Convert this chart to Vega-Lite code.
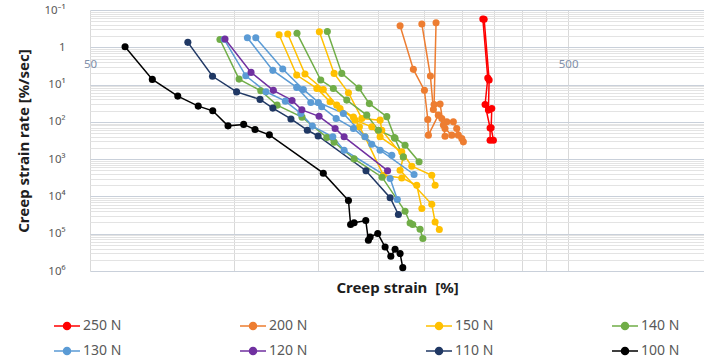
{
  "$schema": "https://vega.github.io/schema/vega-lite/v6.json",
  "width": 614,
  "height": 261,
  "autosize": {"type": "none"},
  "padding": {"left": 90, "top": 10, "right": 0, "bottom": 93},
  "background": "white",
  "config": {"view": {"stroke": null}, "font": "Noto Sans"},
  "data": {"values": [
    {"load":"250 N","spec":"a","n":1,"strain":331.6,"rate":0.174},
    {"load":"250 N","spec":"a","n":2,"strain":339.6,"rate":6.70},
    {"load":"250 N","spec":"a","n":3,"strain":335.2,"rate":34.1},
    {"load":"250 N","spec":"a","n":4,"strain":343.4,"rate":147},
    {"load":"250 N","spec":"a","n":5,"strain":343.4,"rate":310},
    {"load":"250 N","spec":"b","n":1,"strain":333.7,"rate":0.178},
    {"load":"250 N","spec":"b","n":2,"strain":341.8,"rate":7.58},
    {"load":"250 N","spec":"b","n":3,"strain":340.6,"rate":48.4},
    {"load":"250 N","spec":"b","n":4,"strain":346.2,"rate":43.6},
    {"load":"250 N","spec":"b","n":5,"strain":345.1,"rate":145},
    {"load":"250 N","spec":"b","n":6,"strain":348.9,"rate":310},

    {"load":"200 N","spec":"a","n":1,"strain":222.6,"rate":0.264},
    {"load":"200 N","spec":"a","n":2,"strain":237.3,"rate":3.91},
    {"load":"200 N","spec":"a","n":3,"strain":250.3,"rate":14.3},
    {"load":"200 N","spec":"a","n":4,"strain":254.4,"rate":86.1},
    {"load":"200 N","spec":"a","n":5,"strain":255.1,"rate":227},
    {"load":"200 N","spec":"a","n":6,"strain":267.6,"rate":66.0},
    {"load":"200 N","spec":"a","n":7,"strain":276.4,"rate":150},
    {"load":"200 N","spec":"a","n":8,"strain":285.5,"rate":227},
    {"load":"200 N","spec":"a","n":9,"strain":294.7,"rate":227},
    {"load":"200 N","spec":"a","n":10,"strain":301.9,"rate":344},
    {"load":"200 N","spec":"b","n":1,"strain":247.2,"rate":0.238},
    {"load":"200 N","spec":"b","n":2,"strain":257.6,"rate":5.92},
    {"load":"200 N","spec":"b","n":3,"strain":261.3,"rate":46.4},
    {"load":"200 N","spec":"b","n":4,"strain":272.1,"rate":81.0},
    {"load":"200 N","spec":"b","n":5,"strain":278.8,"rate":100},
    {"load":"200 N","spec":"b","n":6,"strain":287.7,"rate":100},
    {"load":"200 N","spec":"b","n":7,"strain":292.4,"rate":150},
    {"load":"200 N","spec":"b","n":8,"strain":299.6,"rate":279},
    {"load":"200 N","spec":"c","n":1,"strain":264.7,"rate":0.219},
    {"load":"200 N","spec":"c","n":2,"strain":262.2,"rate":34.5},
    {"load":"200 N","spec":"c","n":3,"strain":269.9,"rate":33.4},
    {"load":"200 N","spec":"c","n":4,"strain":274.2,"rate":122},
    {"load":"200 N","spec":"c","n":5,"strain":276.4,"rate":242},

    {"load":"150 N","spec":"a","n":1,"strain":124.3,"rate":0.460},
    {"load":"150 N","spec":"a","n":2,"strain":135.3,"rate":5.57},
    {"load":"150 N","spec":"a","n":3,"strain":149.1,"rate":12.7},
    {"load":"150 N","spec":"a","n":4,"strain":158.9,"rate":29.0},
    {"load":"150 N","spec":"a","n":5,"strain":166.7,"rate":43.6},
    {"load":"150 N","spec":"a","n":6,"strain":177.8,"rate":74.7},
    {"load":"150 N","spec":"a","n":7,"strain":183.0,"rate":136},
    {"load":"150 N","spec":"a","n":8,"strain":188.0,"rate":252},
    {"load":"150 N","spec":"a","n":9,"strain":205.4,"rate":2700},
    {"load":"150 N","spec":"a","n":10,"strain":224.4,"rate":3190},
    {"load":"150 N","spec":"a","n":11,"strain":241.2,"rate":5000},
    {"load":"150 N","spec":"a","n":12,"strain":247.2,"rate":21100},
    {"load":"150 N","spec":"b","n":1,"strain":129.6,"rate":0.441},
    {"load":"150 N","spec":"b","n":2,"strain":140.8,"rate":5.23},
    {"load":"150 N","spec":"b","n":3,"strain":153.8,"rate":13.5},
    {"load":"150 N","spec":"b","n":4,"strain":164.1,"rate":35.6},
    {"load":"150 N","spec":"b","n":5,"strain":179.2,"rate":89.9},
    {"load":"150 N","spec":"b","n":6,"strain":194.2,"rate":136},
    {"load":"150 N","spec":"b","n":7,"strain":202.2,"rate":252},
    {"load":"150 N","spec":"b","n":8,"strain":224.4,"rate":639},
    {"load":"150 N","spec":"b","n":9,"strain":235.5,"rate":1550},
    {"load":"150 N","spec":"b","n":10,"strain":259.3,"rate":2700},
    {"load":"150 N","spec":"b","n":11,"strain":263.5,"rate":5000},
    {"load":"150 N","spec":"c","n":1,"strain":150.9,"rate":0.383},
    {"load":"150 N","spec":"c","n":2,"strain":162.0,"rate":5.01},
    {"load":"150 N","spec":"c","n":3,"strain":173.6,"rate":16.6},
    {"load":"150 N","spec":"c","n":4,"strain":185.1,"rate":81.0},
    {"load":"150 N","spec":"c","n":5,"strain":202.2,"rate":89.9},
    {"load":"150 N","spec":"c","n":6,"strain":203.8,"rate":167},
    {"load":"150 N","spec":"c","n":7,"strain":226.1,"rate":870},
    {"load":"150 N","spec":"c","n":8,"strain":222.6,"rate":1980},
    {"load":"150 N","spec":"c","n":9,"strain":259.3,"rate":16200},
    {"load":"150 N","spec":"c","n":10,"strain":263.5,"rate":48400},
    {"load":"150 N","spec":"c","n":11,"strain":268.9,"rate":77500},

    {"load":"140 N","spec":"a","n":1,"strain":93.5,"rate":0.620},
    {"load":"140 N","spec":"a","n":2,"strain":102.5,"rate":7.13},
    {"load":"140 N","spec":"a","n":3,"strain":113.8,"rate":14.7},
    {"load":"140 N","spec":"a","n":4,"strain":123.1,"rate":35.6},
    {"load":"140 N","spec":"a","n":5,"strain":138.8,"rate":74.7},
    {"load":"140 N","spec":"a","n":6,"strain":156.4,"rate":262},
    {"load":"140 N","spec":"a","n":7,"strain":162.0,"rate":350},
    {"load":"140 N","spec":"a","n":8,"strain":178.4,"rate":984},
    {"load":"140 N","spec":"a","n":9,"strain":204.1,"rate":3050},
    {"load":"140 N","spec":"a","n":10,"strain":228.0,"rate":25000},
    {"load":"140 N","spec":"a","n":11,"strain":233.6,"rate":51500},
    {"load":"140 N","spec":"a","n":12,"strain":236.6,"rate":56900},
    {"load":"140 N","spec":"a","n":13,"strain":245.1,"rate":76000},
    {"load":"140 N","spec":"a","n":14,"strain":248.4,"rate":135000},
    {"load":"140 N","spec":"b","n":1,"strain":135.5,"rate":0.422},
    {"load":"140 N","spec":"b","n":2,"strain":151.9,"rate":7.58},
    {"load":"140 N","spec":"b","n":3,"strain":161.4,"rate":12.7},
    {"load":"140 N","spec":"b","n":4,"strain":172.2,"rate":26.1},
    {"load":"140 N","spec":"b","n":5,"strain":189.6,"rate":66.0},
    {"load":"140 N","spec":"b","n":6,"strain":200.5,"rate":167},
    {"load":"140 N","spec":"b","n":7,"strain":216.6,"rate":265},
    {"load":"140 N","spec":"b","n":8,"strain":226.1,"rate":870},
    {"load":"140 N","spec":"c","n":1,"strain":156.8,"rate":0.378},
    {"load":"140 N","spec":"c","n":2,"strain":168.1,"rate":5.01},
    {"load":"140 N","spec":"c","n":3,"strain":182.5,"rate":12.4},
    {"load":"140 N","spec":"c","n":4,"strain":192.0,"rate":32.4},
    {"load":"140 N","spec":"c","n":5,"strain":208.8,"rate":72.4},
    {"load":"140 N","spec":"c","n":6,"strain":217.3,"rate":274},
    {"load":"140 N","spec":"c","n":7,"strain":228.0,"rate":422},
    {"load":"140 N","spec":"c","n":8,"strain":243.9,"rate":1180},

    {"load":"130 N","spec":"a","n":1,"strain":95.4,"rate":0.612},
    {"load":"130 N","spec":"a","n":2,"strain":105.9,"rate":5.81},
    {"load":"130 N","spec":"a","n":3,"strain":116.7,"rate":15.6},
    {"load":"130 N","spec":"a","n":4,"strain":128.1,"rate":27.8},
    {"load":"130 N","spec":"a","n":5,"strain":138.0,"rate":59.4},
    {"load":"130 N","spec":"a","n":6,"strain":145.9,"rate":130},
    {"load":"130 N","spec":"a","n":7,"strain":161.0,"rate":252},
    {"load":"130 N","spec":"a","n":8,"strain":170.0,"rate":575},
    {"load":"130 N","spec":"a","n":9,"strain":212.2,"rate":3310},
    {"load":"130 N","spec":"a","n":10,"strain":219.7,"rate":12100},
    {"load":"130 N","spec":"b","n":1,"strain":106.7,"rate":0.554},
    {"load":"130 N","spec":"b","n":2,"strain":120.6,"rate":4.16},
    {"load":"130 N","spec":"b","n":3,"strain":135.3,"rate":11.9},
    {"load":"130 N","spec":"b","n":4,"strain":144.8,"rate":30.1},
    {"load":"130 N","spec":"b","n":5,"strain":152.6,"rate":39.5},
    {"load":"130 N","spec":"b","n":6,"strain":163.6,"rate":81.0},
    {"load":"130 N","spec":"b","n":7,"strain":177.8,"rate":150},
    {"load":"130 N","spec":"b","n":8,"strain":194.2,"rate":397},
    {"load":"130 N","spec":"b","n":9,"strain":213.9,"rate":783},
    {"load":"130 N","spec":"c","n":1,"strain":111.1,"rate":0.554},
    {"load":"130 N","spec":"c","n":2,"strain":126.5,"rate":3.84},
    {"load":"130 N","spec":"c","n":3,"strain":139.7,"rate":13.5},
    {"load":"130 N","spec":"c","n":4,"strain":150.2,"rate":30.1},
    {"load":"130 N","spec":"c","n":5,"strain":169.4,"rate":59.4},
    {"load":"130 N","spec":"c","n":6,"strain":188.0,"rate":252},
    {"load":"130 N","spec":"c","n":7,"strain":202.2,"rate":575},
    {"load":"130 N","spec":"c","n":8,"strain":238.1,"rate":2580},

    {"load":"120 N","spec":"a","n":1,"strain":95.8,"rate":0.601},
    {"load":"120 N","spec":"a","n":2,"strain":108.6,"rate":4.71},
    {"load":"120 N","spec":"a","n":3,"strain":120.9,"rate":14.3},
    {"load":"120 N","spec":"a","n":4,"strain":132.3,"rate":26.6},
    {"load":"120 N","spec":"a","n":5,"strain":138.7,"rate":47.6},
    {"load":"120 N","spec":"a","n":6,"strain":150.7,"rate":71.1},
    {"load":"120 N","spec":"a","n":7,"strain":162.8,"rate":150},
    {"load":"120 N","spec":"a","n":8,"strain":170.0,"rate":252},
    {"load":"120 N","spec":"a","n":9,"strain":209.6,"rate":2040},

    {"load":"110 N","spec":"a","n":1,"strain":80.1,"rate":0.737},
    {"load":"110 N","spec":"a","n":2,"strain":90.2,"rate":6.00},
    {"load":"110 N","spec":"a","n":3,"strain":101.3,"rate":15.7},
    {"load":"110 N","spec":"a","n":4,"strain":113.4,"rate":25.0},
    {"load":"110 N","spec":"a","n":5,"strain":120.6,"rate":42.8},
    {"load":"110 N","spec":"a","n":6,"strain":131.6,"rate":83.5},
    {"load":"110 N","spec":"a","n":7,"strain":142.4,"rate":167},
    {"load":"110 N","spec":"a","n":8,"strain":150.0,"rate":239},
    {"load":"110 N","spec":"a","n":9,"strain":188.9,"rate":2040},
    {"load":"110 N","spec":"a","n":10,"strain":212.2,"rate":10800},
    {"load":"110 N","spec":"a","n":11,"strain":220.8,"rate":30600},

    {"load":"100 N","spec":"a","n":1,"strain":59.2,"rate":0.967},
    {"load":"100 N","spec":"a","n":2,"strain":67.5,"rate":7.26},
    {"load":"100 N","spec":"a","n":3,"strain":76.3,"rate":20.4},
    {"load":"100 N","spec":"a","n":4,"strain":84.2,"rate":37.8},
    {"load":"100 N","spec":"a","n":5,"strain":90.3,"rate":50.6},
    {"load":"100 N","spec":"a","n":6,"strain":97.2,"rate":128},
    {"load":"100 N","spec":"a","n":7,"strain":104.8,"rate":117},
    {"load":"100 N","spec":"a","n":8,"strain":110.7,"rate":160},
    {"load":"100 N","spec":"a","n":9,"strain":118.6,"rate":223},
    {"load":"100 N","spec":"a","n":10,"strain":153.8,"rate":2380},
    {"load":"100 N","spec":"a","n":11,"strain":173.6,"rate":12900},
    {"load":"100 N","spec":"a","n":12,"strain":175.4,"rate":56900},
    {"load":"100 N","spec":"a","n":13,"strain":178.4,"rate":50900},
    {"load":"100 N","spec":"a","n":14,"strain":188.7,"rate":44400},
    {"load":"100 N","spec":"a","n":15,"strain":191.1,"rate":150000},
    {"load":"100 N","spec":"a","n":16,"strain":192.7,"rate":122000},
    {"load":"100 N","spec":"a","n":17,"strain":199.9,"rate":99100},
    {"load":"100 N","spec":"a","n":18,"strain":207.1,"rate":227000},
    {"load":"100 N","spec":"a","n":19,"strain":212.9,"rate":404000},
    {"load":"100 N","spec":"a","n":20,"strain":217.3,"rate":262000},
    {"load":"100 N","spec":"a","n":21,"strain":222.6,"rate":341000},
    {"load":"100 N","spec":"a","n":22,"strain":225.5,"rate":812000}
  ]},
  "layer": [
    {
      "mark": {"type": "line", "strokeWidth": 1.5},
      "encoding": {
        "x": {
          "field": "strain", "type": "quantitative",
          "scale": {"type": "log", "domain": [50, 962], "nice": false},
          "axis": {
            "orient": "bottom",
            "values": [50, 100, 150, 200, 250, 300, 350, 400, 450, 500],
            "labels": false, "ticks": false, "domain": false,
            "grid": true, "gridColor": "#D9D9D9", "gridWidth": 1,
            "title": "Creep strain\u00a0 [%]",
            "titleFont": "Noto Sans", "titleFontSize": 15, "titleFontWeight": "bold",
            "titleColor": "#1E1E1E", "titlePadding": 9
          }
        },
        "y": {
          "field": "rate", "type": "quantitative",
          "scale": {"type": "log", "domain": [0.1, 1000000], "reverse": true, "nice": false},
          "axis": {
            "values": [0.1,
              1, 0.5, 0.333333, 0.25, 0.2, 0.166667, 0.142857, 0.125, 0.111111,
              10, 5, 3.33333, 2.5, 2, 1.66667, 1.42857, 1.25, 1.11111,
              100, 50, 33.3333, 25, 20, 16.6667, 14.2857, 12.5, 11.1111,
              1000, 500, 333.333, 250, 200, 166.667, 142.857, 125, 111.111,
              10000, 5000, 3333.33, 2500, 2000, 1666.67, 1428.57, 1250, 1111.11,
              100000, 50000, 33333.3, 25000, 20000, 16666.7, 14285.7, 12500, 11111.1,
              1000000, 500000, 333333, 250000, 200000, 166667, 142857, 125000, 111111],
            "labelExpr": "datum.value == 0.1 ? '10⁻¹' : datum.value == 1 ? '1' : datum.value == 10 ? '10¹' : datum.value == 100 ? '10²' : datum.value == 1000 ? '10³' : datum.value == 10000 ? '10⁴' : datum.value == 100000 ? '10⁵' : datum.value == 1000000 ? '10⁶' : ''",
            "labelOverlap": false, "labelFlush": false,
            "labelFont": "Noto Sans", "labelFontSize": 11.5, "labelColor": "#595959",
            "labelPadding": 25, "ticks": false, "tickSize": 0, "domain": false,
            "grid": true, "gridWidth": 1,
            "gridColor": {
              "condition": {"test": "datum.value == 0.1 || datum.value == 1 || datum.value == 10 || datum.value == 100 || datum.value == 1000 || datum.value == 10000 || datum.value == 100000 || datum.value == 1000000", "value": "#C9D0DA"},
              "value": "#E3E3E3"
            },
            "title": "Creep strain rate [%/sec]",
            "titleFont": "Noto Sans", "titleFontSize": 15, "titleFontWeight": "bold",
            "titleColor": "#1E1E1E", "titlePadding": 12
          }
        },
        "color": {
          "field": "load", "type": "nominal",
          "scale": {
            "domain": ["250 N", "200 N", "150 N", "140 N", "130 N", "120 N", "110 N", "100 N"],
            "range": ["#FF0000", "#ED7D31", "#FFC000", "#70AD47", "#5B9BD5", "#7030A0", "#203864", "#000000"]
          },
          "legend": {
            "title": null,
            "orient": "none", "legendX": -37, "legendY": 302,
            "direction": "horizontal", "columns": 4, "gridAlign": "all",
            "columnPadding": 115, "rowPadding": 4, "padding": 0,
            "symbolType": "M-1,0H1M-0.27,0A0.27,0.27,0,1,1,0.27,0A0.27,0.27,0,1,1,-0.27,0Z",
            "symbolSize": 676, "symbolStrokeWidth": 1.5,
            "labelFont": "Noto Sans", "labelFontSize": 14, "labelColor": "#595959", "labelOffset": 2,
            "encode": {
              "symbols": {
                "update": {
                  "fill": {"scale": "color", "field": "value"},
                  "stroke": {"scale": "color", "field": "value"},
                  "opacity": {"value": 1}
                }
              }
            }
          }
        },
        "detail": {"field": "spec"},
        "order": {"field": "n"}
      }
    },
    {
      "mark": {"type": "point", "filled": true, "size": 50, "opacity": 1},
      "encoding": {
        "x": {
          "field": "strain", "type": "quantitative",
          "axis": {
            "orient": "bottom", "offset": -223.5,
            "values": [50, 500], "format": "d",
            "labelFlush": false, "labelOverlap": false,
            "labelFont": "Noto Sans", "labelFontSize": 11.5, "labelColor": "#7F8FA9",
            "labelPadding": 11, "ticks": false, "tickSize": 0, "domain": false,
            "grid": false, "title": null
          }
        },
        "y": {"field": "rate", "type": "quantitative"},
        "color": {"field": "load", "type": "nominal"}
      }
    }
  ],
  "resolve": {"axis": {"x": "independent"}}
}
